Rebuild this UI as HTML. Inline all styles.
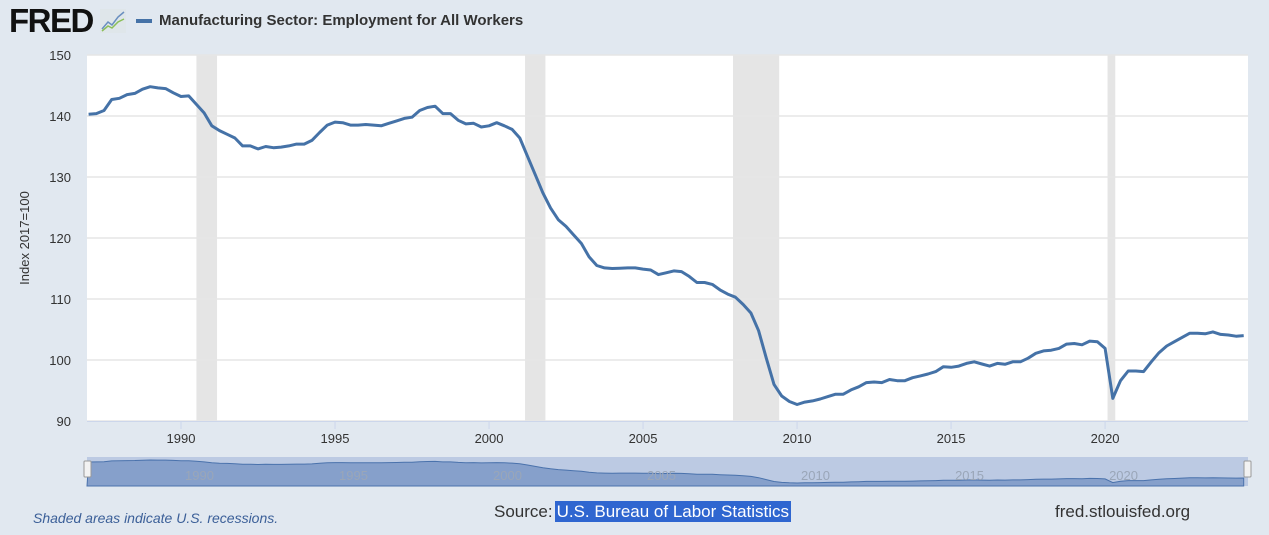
<!DOCTYPE html>
<html><head><meta charset="utf-8"><style>
body{margin:0;width:1269px;height:535px;background:#e1e8f0;font-family:"Liberation Sans",sans-serif;overflow:hidden;position:relative}
</style></head><body>
<div style="position:absolute;left:9px;top:2px;font:bold 33px 'Liberation Sans',sans-serif;letter-spacing:-1.5px;color:#111">FRED</div>
<svg style="position:absolute;left:100px;top:9px" width="26" height="24"><rect width="26" height="24" fill="#dfe6ea"/><polyline points="2,20 8,13 12,16 18,8 24,3" fill="none" stroke="#6a8fc0" stroke-width="1.5"/><polyline points="2,22 8,17 12,19 18,13 24,10" fill="none" stroke="#8bbf5a" stroke-width="1.5"/></svg>
<div style="position:absolute;left:136px;top:19px;width:16px;height:4px;background:#4572a7"></div>
<div style="position:absolute;left:159px;top:12px;font:bold 15px 'Liberation Sans',sans-serif;color:#333">Manufacturing Sector: Employment for All Workers</div>
<svg id="chart" width="1269" height="535" style="position:absolute;left:0;top:0"></svg>
<div style="position:absolute;left:33px;top:510px;font:italic 14px 'Liberation Sans',sans-serif;color:#3b5f98">Shaded areas indicate U.S. recessions.</div>
<div style="position:absolute;left:494px;top:502px;font:17px 'Liberation Sans',sans-serif;color:#333">Source:<span style="background:#2f66d0;color:#fff;padding:1px 2px;margin-left:2px">U.S. Bureau of Labor Statistics</span></div>
<div style="position:absolute;left:1055px;top:502px;font:17px 'Liberation Sans',sans-serif;color:#333">fred.stlouisfed.org</div>
<script>
const startYear = 1987;
const values = [
140.3,140.4,140.9,142.7, 142.9,143.5,143.7,144.4, 144.8,144.6,144.5,143.8,
143.2,143.3,141.9,140.5, 138.4,137.6,137.0,136.4, 135.1,135.1,134.6,135.0,
134.8,134.9,135.1,135.4, 135.4,136.0,137.3,138.5, 139.0,138.9,138.5,138.5,
138.6,138.5,138.4,138.8, 139.2,139.6,139.8,140.9, 141.4,141.6,140.4,140.4,
139.3,138.7,138.8,138.2, 138.4,138.9,138.4,137.8, 136.4,133.4,130.4,127.4,
124.9,123.0,121.9,120.5, 119.1,116.9,115.5,115.1, 115.0,115.05,115.1,115.1,
114.9,114.75,114.0,114.3, 114.6,114.5,113.7,112.7, 112.7,112.4,111.5,110.8,
110.3,109.1,107.7,104.8, 100.3,96.0,94.1,93.2, 92.7,93.1,93.3,93.6,
94.0,94.4,94.4,95.1, 95.6,96.3,96.4,96.3, 96.8,96.6,96.6,97.1,
97.4,97.7,98.1,98.9, 98.8,99.0,99.45,99.7, 99.35,99.0,99.45,99.3,
99.7,99.7,100.3,101.1, 101.5,101.6,101.9,102.6, 102.7,102.5,103.1,103.0,
101.9,93.7,96.6,98.2, 98.2,98.1,99.7,101.2, 102.3,103.0,103.7,104.4,
104.4,104.3,104.6,104.2, 104.1,103.9,104.0];
const recessionStarts = [1990.5, 2001.17, 2007.92, 2020.08];
const recessionEnds = [1991.17, 2001.83, 2009.42, 2020.33];
const yTicks = [90,100,110,120,130,140,150];
const xTicks = [1990,1995,2000,2005,2010,2015,2020];

const svg = document.getElementById('chart');
const NS='http://www.w3.org/2000/svg';
const L=87,R=1248,T=55,B=421,X0=1986.948,X1=2024.64;
const x = t => L+(t-X0)/(X1-X0)*(R-L);
const y = v => B-(v-90)/60*(B-T);
const mk=(tag,a)=>{const e=document.createElementNS(NS,tag);for(const k in a)e.setAttribute(k,a[k]);svg.appendChild(e);return e;};
const bg=mk('rect',{x:L,y:T,width:R-L,height:B-T,fill:'#fff'});


recessionStarts.forEach((s,i)=>{
  const r=mk('rect',{x:x(s),y:T,width:x(recessionEnds[i])-x(s),height:B-T,fill:'#e5e5e5'});
  
  
});
yTicks.forEach(v=>{
  const g=mk('line',{x1:L,x2:R,y1:y(v),y2:y(v),stroke:'#e6e6e6','stroke-width':1.5});
  
  
  const t=mk('text',{x:71,y:y(v)+5,'text-anchor':'end','font-size':13,fill:'#333','font-family':'Liberation Sans, sans-serif'});
  t.textContent=v;
  
  
});
mk('line',{x1:L,x2:R,y1:B+0.5,y2:B+0.5,stroke:'#ccd6eb'});
xTicks.forEach(v=>{
  const tk=mk('line',{x1:x(v),x2:x(v),y1:B,y2:B+8,stroke:'#ccd6eb'});
  
  
  const t=mk('text',{x:x(v),y:443,'text-anchor':'middle','font-size':13,fill:'#333','font-family':'Liberation Sans, sans-serif'});
  t.textContent=v;
  
  
});
const yt=mk('text',{x:0,y:0,transform:'translate(29,238) rotate(-90)','text-anchor':'middle','font-size':13,fill:'#333','font-family':'Liberation Sans, sans-serif'});
yt.textContent='Index 2017=100';


const pts=values.map((v,i)=>x(startYear+i/4).toFixed(1)+','+y(v).toFixed(1)).join(' ');
const line=mk('polyline',{points:pts,fill:'none',stroke:'#4572a7','stroke-width':3,'stroke-linejoin':'round'});


// navigator
const NT=457,NB=486;
const nav=mk('rect',{x:L,y:NT,width:R-L,height:NB-NT,fill:'#bccae3'});


const mn=Math.min(...values),mx=Math.max(...values);
const ny=v=>483-(v-mn)/(mx-mn)*23;
const npts=values.map((v,i)=>x(startYear+i/4).toFixed(1)+','+ny(v).toFixed(1));
const area=mk('polygon',{points:L+','+NB+' '+npts.join(' ')+' '+x(startYear+(values.length-1)/4).toFixed(1)+','+NB,fill:'#86a0cb',stroke:'#4a72ac','stroke-width':1});


xTicks.forEach(v=>{
  const t=mk('text',{x:x(v)+4,y:480,'font-size':13,fill:'#9aa6b8','font-family':'Liberation Sans, sans-serif'});
  t.textContent=v;
  
  
});
[L-3,R-4].forEach(hx=>{
  const h=mk('rect',{x:hx,y:461,width:7,height:16,fill:'#f2f2f2',stroke:'#999',rx:1});
  
  
});
</script>
</body></html>
